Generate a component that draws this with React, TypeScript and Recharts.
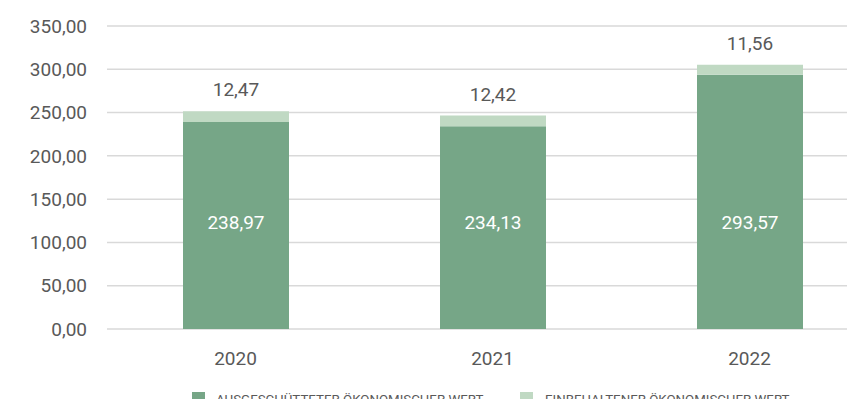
import React from "react";
import { BarChart, Bar, XAxis, YAxis, CartesianGrid, LabelList } from "recharts";

const years = ["2020", "2021", "2022"];
const distributed = [238.97, 234.13, 293.57];
const retained = [12.47, 12.42, 11.56];
const yTicks = [0, 50, 100, 150, 200, 250, 300, 350];
const seriesNames = ["AUSGESCHÜTTETER ÖKONOMISCHER WERT", "EINBEHALTENER ÖKONOMISCHER WERT"];

const DARK = "#76A687";
const LIGHT = "#C0D9C3";
const TEXT = "#595959";
const FONT = "Roboto, 'DejaVu Sans', sans-serif";

const data = years.map((y, i) => ({ year: y, distributed: distributed[i], retained: retained[i] }));

const fmt = (v: any) => Number(v).toFixed(2).replace(".", ",");

export default function App() {
  return (
    <div style={{ margin: -8, width: 855, height: 407, overflow: "hidden", position: "relative", fontFamily: FONT }}>
      <BarChart
        width={878}
        height={407}
        data={data}
        margin={{ top: 26, right: 0, left: 0, bottom: 48 }}
        barSize={106}
      >
        <CartesianGrid vertical={false} stroke="#d9d9d9" strokeWidth={1.5} />
        <XAxis
          dataKey="year"
          axisLine={false}
          tickLine={false}
          tickSize={0}
          tickMargin={23}
          height={30}
          tick={{ fill: TEXT, fontSize: 19, fontFamily: FONT }}
        />
        <YAxis
          domain={[0, 350]}
          ticks={yTicks}
          width={107}
          axisLine={false}
          tickLine={false}
          tickSize={0}
          tickMargin={20}
          tickFormatter={fmt}
          tick={{ fill: TEXT, fontSize: 19, fontFamily: FONT }}
        />
        <Bar dataKey="distributed" stackId="a" fill={DARK} isAnimationActive={false}>
          <LabelList dataKey="distributed" position="insideBottom" offset={100} formatter={fmt} fill="#ffffff" style={{ fontSize: 19, fontFamily: FONT }} />
        </Bar>
        <Bar dataKey="retained" stackId="a" fill={LIGHT} isAnimationActive={false}>
          <LabelList dataKey="retained" position="top" offset={15} formatter={fmt} fill={TEXT} style={{ fontSize: 19, fontFamily: FONT }} />
        </Bar>
      </BarChart>
      <div style={{ position: "absolute", top: 392, left: 192, display: "flex", alignItems: "flex-start", fontSize: 13.3, color: TEXT, lineHeight: "15px", whiteSpace: "nowrap" }}>
        <span style={{ width: 13, height: 15, background: DARK, display: "inline-block" }} />
        <span style={{ marginLeft: 11, width: 304, display: "inline-block" }}>{seriesNames[0]}</span>
        <span style={{ width: 13, height: 15, background: LIGHT, display: "inline-block" }} />
        <span style={{ marginLeft: 12 }}>{seriesNames[1]}</span>
      </div>
    </div>
  );
}
